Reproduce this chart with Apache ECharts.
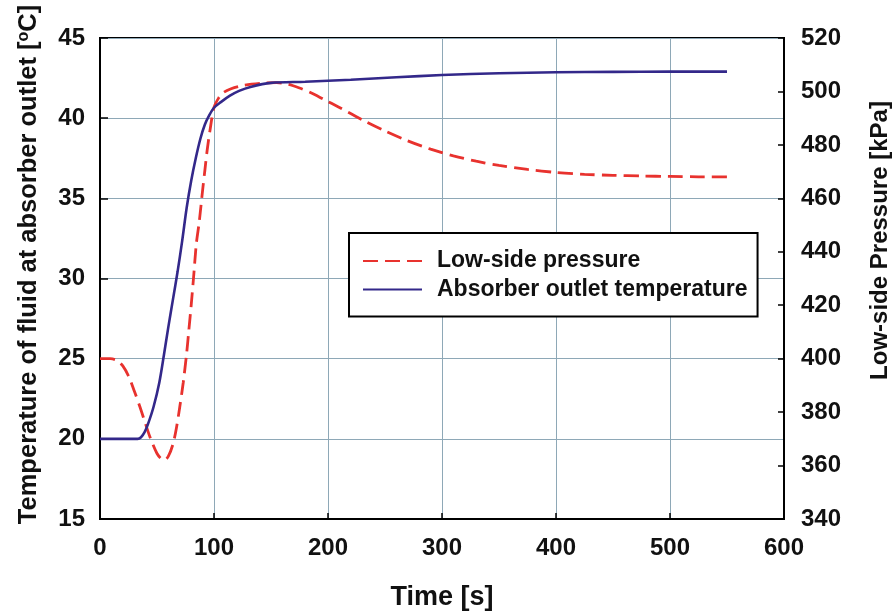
<!DOCTYPE html>
<html>
<head>
<meta charset="utf-8">
<script src="https://cdn.jsdelivr.net/npm/echarts@6/dist/echarts.min.js"></script>
<style>
html,body{margin:0;padding:0;background:#fff;}
#chart{width:896px;height:611px;}
</style>
</head>
<body>
<div id="chart"></div>
<script>
// Absorber outlet fluid temperature [°C] over time [s]
const tempTime = [0, 20, 33, 36, 39, 42, 47, 52, 56, 60, 64, 68, 72, 76, 80, 84, 88, 92, 96, 100, 106, 114, 122, 132, 150, 180, 220, 260, 300, 350, 400, 450, 500, 550];
const tempValue = [20, 20, 20, 20.1, 20.4, 20.9, 22.0, 23.5, 25.2, 27.0, 28.7, 30.4, 32.3, 34.4, 36.1, 37.5, 38.7, 39.6, 40.2, 40.65, 41.0, 41.4, 41.7, 41.95, 42.2, 42.27, 42.4, 42.55, 42.69, 42.8, 42.86, 42.89, 42.9, 42.9];

// Low-side pressure [kPa] over time [s]
const presTime = [0, 9, 15, 20, 25, 30, 35, 40, 44, 50, 54, 57, 60, 64, 67, 70, 73, 76, 78, 80, 82, 84.5, 87, 90, 92, 94, 96.5, 100, 104, 108, 115, 123, 133, 143, 155, 165, 175, 185, 196, 210, 230, 250, 270, 290, 310, 330, 350, 375, 400, 425, 450, 475, 500, 525, 550];
const presValue = [400, 400, 399.3, 397.3, 393.5, 388, 382, 375.5, 370.5, 364.5, 362.5, 362.2, 363.5, 368, 374, 382, 391, 402, 411, 420, 430, 443, 451, 463, 470.5, 478, 485.5, 494, 497.5, 499.5, 501, 502, 502.7, 503.1, 503.3, 502.7, 501.3, 499.5, 497.1, 494.0, 489.4, 485.2, 481.5, 478.4, 475.9, 473.9, 472.3, 470.8, 469.7, 469.0, 468.6, 468.35, 468.2, 468.05, 468];

const pair = (xs, ys) => xs.map((x, i) => [x, ys[i]]);

const FONT = 'Liberation Sans, Arial, sans-serif';
const gridColor = '#8ea8b7';
const tickLabel = { fontFamily: FONT, fontWeight: 'bold', fontSize: 24, color: '#111' };

const chart = echarts.init(document.getElementById('chart'));
chart.setOption({
  backgroundColor: '#fff',
  animation: false,
  grid: {
    left: 100, right: 112, top: 38, bottom: 92,
    containLabel: false, outerBoundsMode: 'none',
    show: true, borderColor: '#000', borderWidth: 2, backgroundColor: 'transparent'
  },
  legend: {
    orient: 'vertical',
    left: 349, top: 233,
    padding: [16, 10, 15, 13],
    borderColor: '#000', borderWidth: 2,
    backgroundColor: '#fff',
    itemWidth: 59, itemHeight: 14, itemGap: 4.5,
    itemStyle: { opacity: 0 },
    textStyle: { fontFamily: FONT, fontWeight: 'bold', fontSize: 23, lineHeight: 24, color: '#111', padding: [0, 0, 0, 10] },
    data: ['Low-side pressure', 'Absorber outlet temperature']
  },
  xAxis: {
    type: 'value', min: 0, max: 600, interval: 100,
    name: 'Time [s]', nameLocation: 'middle', nameGap: 65,
    nameTextStyle: { fontFamily: FONT, fontWeight: 'bold', fontSize: 27, color: '#111' },
    axisLine: { lineStyle: { color: '#000', width: 2 } },
    axisTick: { inside: true, length: 6, lineStyle: { color: '#000', width: 1.5 } },
    axisLabel: Object.assign({ margin: 17 }, tickLabel),
    splitLine: { show: true, lineStyle: { color: gridColor, width: 1 } }
  },
  yAxis: [
    {
      type: 'value', min: 15, max: 45, interval: 5, position: 'left',
      name: 'Temperature of fluid at absorber outlet [{sup|o}C]',
      nameLocation: 'middle', nameGap: 58, nameRotate: 90,
      nameTextStyle: {
        fontFamily: FONT, fontWeight: 'bold', fontSize: 25.5, color: '#111', padding: [0, 0, 0, 28],
        rich: { sup: { fontFamily: FONT, fontWeight: 'bold', fontSize: 16, color: '#111', verticalAlign: 'top', padding: [0, 0, 9, 0] } }
      },
      axisLine: { show: true, lineStyle: { color: '#000', width: 2 } },
      axisTick: { inside: true, length: 8, lineStyle: { color: '#000', width: 1.5 } },
      axisLabel: Object.assign({ margin: 15 }, tickLabel),
      splitLine: { show: true, lineStyle: { color: gridColor, width: 1 } }
    },
    {
      type: 'value', min: 340, max: 520, interval: 20, position: 'right',
      name: 'Low-side Pressure [kPa]',
      nameLocation: 'middle', nameGap: 84, nameRotate: 90,
      nameTextStyle: { fontFamily: FONT, fontWeight: 'bold', fontSize: 24, color: '#111', padding: [0, 0, 0, 76] },
      axisLine: { show: true, lineStyle: { color: '#000', width: 2 } },
      axisTick: { inside: true, length: 6, lineStyle: { color: '#000', width: 1.5 } },
      axisLabel: Object.assign({ margin: 17 }, tickLabel),
      splitLine: { show: false }
    }
  ],
  series: [
    {
      name: 'Low-side pressure', type: 'line', yAxisIndex: 1,
      data: pair(presTime, presValue),
      smooth: 0.3, symbol: 'none', z: 3,
      itemStyle: { color: '#e8322e' },
      lineStyle: { color: '#e8322e', width: 2.8, type: [15, 7] }
    },
    {
      name: 'Absorber outlet temperature', type: 'line', yAxisIndex: 0,
      data: pair(tempTime, tempValue),
      smooth: 0.3, symbol: 'none', z: 4,
      itemStyle: { color: '#33288a' },
      lineStyle: { color: '#33288a', width: 2.6 }
    }
  ]
});
</script>
</body>
</html>
